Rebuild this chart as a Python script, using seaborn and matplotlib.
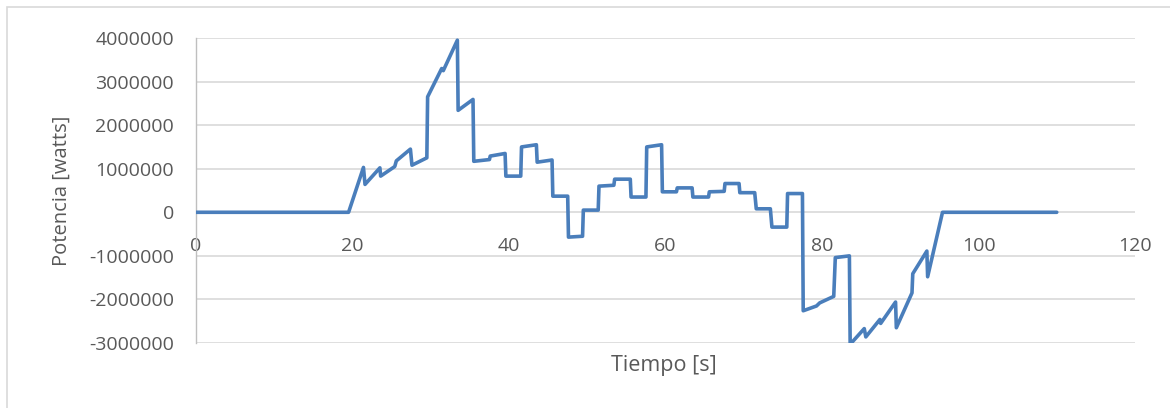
import matplotlib
matplotlib.use("Agg")
import matplotlib.pyplot as plt
import matplotlib.ticker as mticker
from matplotlib.patches import Rectangle
import seaborn as sns
import pandas as pd

# Time samples [s] and electrical power [W]
tiempo = [0, 19.5, 21.4, 21.6, 23.5, 23.6, 25.4, 25.6, 27.4, 27.6, 29.5, 29.6,
          31.4, 31.6, 33.4, 33.5, 35.4, 35.5, 37.5, 37.6, 39.5, 39.6, 41.5, 41.6,
          43.5, 43.6, 45.5, 45.6, 47.5, 47.6, 49.4, 49.5, 51.4, 51.5, 53.4, 53.5,
          55.5, 55.6, 57.5, 57.6, 59.5, 59.6, 61.4, 61.5, 63.4, 63.5, 65.5, 65.6,
          67.5, 67.6, 69.4, 69.5, 71.4, 71.6, 73.4, 73.6, 75.5, 75.6, 77.5, 77.6,
          79.3, 79.7, 81.5, 81.7, 83.5, 83.6, 85.4, 85.6, 87.4, 87.5, 89.4, 89.5,
          91.5, 91.6, 93.4, 93.5, 95.4, 110]
potencia = [0, 0, 1030000, 640000, 1020000, 830000, 1050000, 1180000, 1450000, 1080000, 1250000, 2650000,
            3300000, 3250000, 3950000, 2340000, 2590000, 1170000, 1210000, 1290000, 1350000, 830000, 830000, 1500000,
            1550000, 1150000, 1200000, 370000, 370000, -570000, -550000, 50000, 50000, 600000, 620000, 760000,
            760000, 350000, 350000, 1500000, 1550000, 470000, 470000, 560000, 560000, 350000, 350000, 470000,
            480000, 660000, 660000, 450000, 450000, 80000, 80000, -340000, -340000, 430000, 430000, -2260000,
            -2150000, -2080000, -1930000, -1040000, -1000000, -3030000, -2670000, -2860000, -2460000, -2550000, -2060000, -2650000,
            -1850000, -1410000, -890000, -1480000, 0, 0]

x_ticks = [0, 20, 40, 60, 80, 100, 120]
y_ticks = [-3000000, -2000000, -1000000, 0, 1000000, 2000000, 3000000, 4000000]

df = pd.DataFrame({"Tiempo": tiempo, "Potencia": potencia})

sns.set_theme(style="white")
plt.rcParams["font.family"] = ["Open Sans", "DejaVu Sans"]

W, H = 1170, 408
fig = plt.figure(figsize=(W / 100, H / 100), dpi=100)
fig.patch.set_facecolor("white")

# outer chart-area border
fig.add_artist(Rectangle((7 / W, -0.1), 1.2, 1 - 7 / H + 0.1, transform=fig.transFigure,
                         fill=False, edgecolor="#D9D9D9", linewidth=1.2))

ax = fig.add_axes([196 / W, 1 - 343 / H, (1135 - 196) / W, (343 - 38) / H])

sns.lineplot(data=df, x="Tiempo", y="Potencia", sort=False, estimator=None,
             color="#4A7EBB", linewidth=2.6, ax=ax, zorder=3)

ax.set_xlim(0, 120)
ax.set_ylim(-3000000, 4000000)
ax.set_xticks(x_ticks)
ax.set_yticks(y_ticks)
ax.yaxis.set_major_formatter(mticker.FuncFormatter(lambda v, p: f"{int(round(v))}"))

ax.grid(axis="y", color="#D9D9D9", linewidth=1.2)
ax.grid(axis="x", visible=False)
ax.set_axisbelow(True)

for s in ["top", "right", "bottom"]:
    ax.spines[s].set_visible(False)
ax.spines["left"].set_color("#BFBFBF")
ax.spines["left"].set_linewidth(1.0)
ax.spines["bottom"].set_position(("data", 0))

ax.tick_params(axis="both", length=0, labelsize=14, labelcolor="#595959")
ax.tick_params(axis="x", pad=18)
ax.tick_params(axis="y", pad=16)

ax.set_xlabel("")
ax.set_ylabel("Potencia [watts]", fontsize=14.5, color="#595959", labelpad=12)
fig.text((609 + 718) / 2 / W, 1 - 366 / H, "Tiempo [s]", ha="center", va="center",
         fontsize=15.5, color="#595959")

fig.savefig("out.png", dpi=100, facecolor="white")
